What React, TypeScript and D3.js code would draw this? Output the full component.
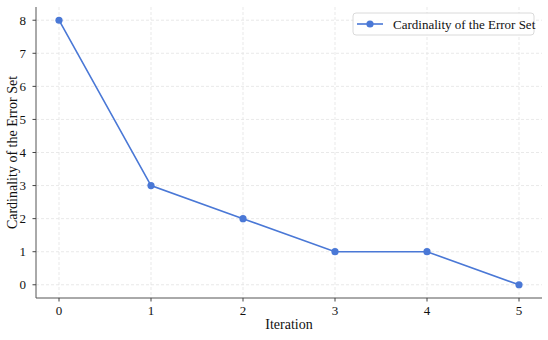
import React from 'react';
import * as d3 from 'd3';

const iterations = [0, 1, 2, 3, 4, 5];
const errorSetSize = [8, 3, 2, 1, 1, 0];
const yTicks = [0, 1, 2, 3, 4, 5, 6, 7, 8];
const seriesLabel = 'Cardinality of the Error Set';

const W = 548;
const H = 340;
const margin = { top: 7, right: 6, bottom: 42, left: 36 };
const color = '#4a78d6';
const font = '"Liberation Serif", "Times New Roman", serif';

export default function App() {
  const x = d3.scaleLinear().domain([-0.25, 5.25]).range([margin.left, W - margin.right]);
  const y = d3.scaleLinear().domain([-0.4, 8.4]).range([H - margin.bottom, margin.top]);
  const pts = iterations.map((it, i) => [it, errorSetSize[i]] as [number, number]);
  const line = d3.line<[number, number]>().x(d => x(d[0])).y(d => y(d[1]));

  const x0 = margin.left;
  const x1 = W - margin.right;
  const y0 = H - margin.bottom;
  const y1 = margin.top;

  return (
    <svg width={W} height={H} style={{ position: 'absolute', left: 0, top: 0, background: '#fff' }}
      fontFamily={font}>
      {/* grid */}
      {iterations.map(t => (
        <line key={'gx' + t} x1={x(t)} x2={x(t)} y1={y1} y2={y0}
          stroke="#e3e3e3" strokeWidth={0.8} strokeDasharray="3,2" />
      ))}
      {yTicks.map(t => (
        <line key={'gy' + t} x1={x0} x2={x1} y1={y(t)} y2={y(t)}
          stroke="#e3e3e3" strokeWidth={0.8} strokeDasharray="3,2" />
      ))}

      {/* spines */}
      <line x1={x0} x2={x0} y1={y1} y2={y0} stroke="#555" strokeWidth={1} />
      <line x1={x0} x2={x1} y1={y0} y2={y0} stroke="#555" strokeWidth={1} />

      {/* ticks */}
      {iterations.map(t => (
        <g key={'tx' + t}>
          <line x1={x(t)} x2={x(t)} y1={y0} y2={y0 + 3.5} stroke="#444" />
          <text x={x(t)} y={y0 + 17} textAnchor="middle" fontSize={13} fill="#111">{t}</text>
        </g>
      ))}
      {yTicks.map(t => (
        <g key={'ty' + t}>
          <line x1={x0 - 3.5} x2={x0} y1={y(t)} y2={y(t)} stroke="#444" />
          <text x={x0 - 10} y={y(t) + 4.5} textAnchor="end" fontSize={13} fill="#111">{t}</text>
        </g>
      ))}

      {/* axis labels */}
      <text x={(x0 + x1) / 2} y={329} textAnchor="middle" fontSize={14} fill="#111">Iteration</text>
      <text transform={`translate(17,${(y0 + y1) / 2}) rotate(-90)`} textAnchor="middle" fontSize={14} fill="#111">
        {seriesLabel}
      </text>

      {/* series */}
      <path d={line(pts) || ''} fill="none" stroke={color} strokeWidth={1.6} />
      {pts.map((p, i) => (
        <circle key={i} cx={x(p[0])} cy={y(p[1])} r={3.6} fill={color} />
      ))}

      {/* legend */}
      <g>
        <rect x={353} y={13} width={181} height={22} rx={3} fill="#fff" fillOpacity={0.85}
          stroke="#d0d0d0" strokeWidth={0.8} />
        <line x1={357} x2={383} y1={24} y2={24} stroke={color} strokeWidth={1.6} />
        <circle cx={370} cy={24} r={3.6} fill={color} />
        <text x={393} y={28.5} fontSize={13} fill="#111">{seriesLabel}</text>
      </g>
    </svg>
  );
}
